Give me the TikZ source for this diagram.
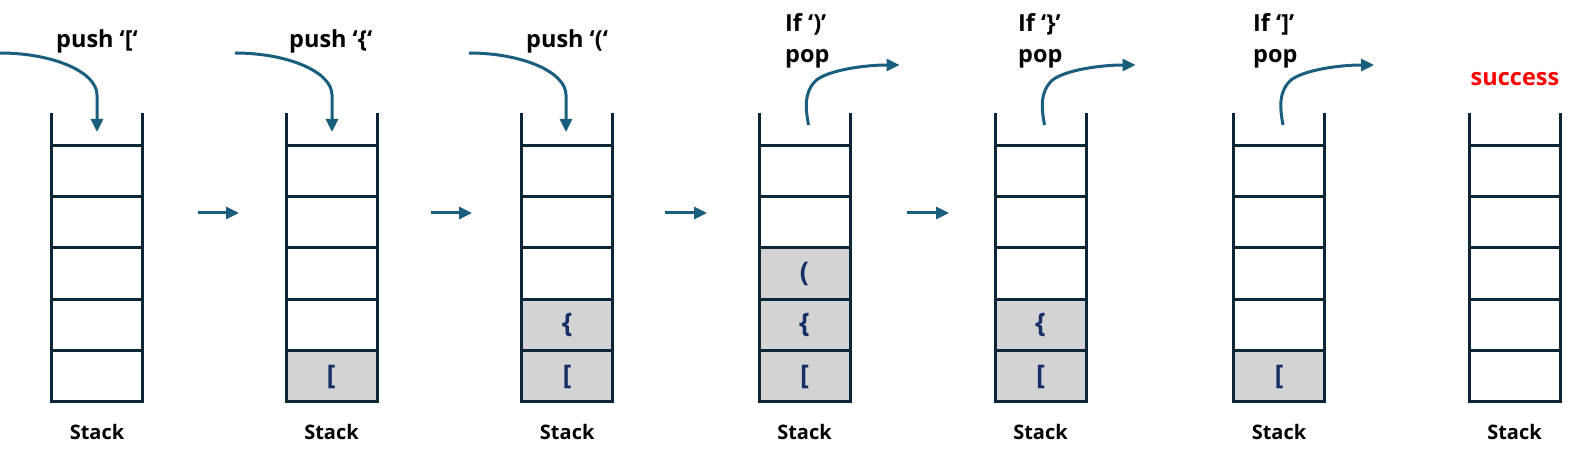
\documentclass[tikz,border=0pt]{standalone}
\usepackage{fontspec}
\setmainfont{Open Sans}
\usetikzlibrary{arrows.meta}
\definecolor{stackc}{HTML}{0C2637}
\definecolor{arrc}{HTML}{1A5E7E}
\definecolor{cellc}{HTML}{D3D3D3}
\definecolor{brc}{HTML}{152F66}
\definecolor{okred}{HTML}{FF0000}
\begin{document}
\begin{tikzpicture}[x=1pt,y=-1pt,
  stackline/.style={draw=stackc,line width=3pt},
  cellfill/.style={fill=cellc,draw=none},
  brk/.style={text=brc,font=\fontsize{27}{27}\selectfont\bfseries,inner sep=0pt},
  lbl/.style={font=\fontsize{23.5}{26}\selectfont\bfseries,text=black,inner sep=0pt,anchor=base west},
  stacklbl/.style={font=\fontsize{20}{20}\selectfont\bfseries,inner sep=0pt,anchor=base},
  flow/.style={draw=arrc,line width=3pt,-{Triangle[length=13pt,width=12pt]}},
]
\useasboundingbox (0,0) rectangle (1588,457);

% filled cells: stack/row
\foreach \l/\k in {286/5, 521.7/4, 521.7/5, 759/3, 759/4, 759/5, 995/4, 995/5, 1233.5/5}{
  \fill[cellfill] (\l, {146+51*(\k-1)}) rectangle ({\l+91}, {146+51*\k});
}

% stacks
\foreach \i/\l in {1/51.5,2/286,3/521.7,4/759,5/995,6/1233.5,7/1469}{
  \pgfmathsetmacro\r{\l+91}
  \pgfmathsetmacro\cx{\l+45.5}
  \draw[stackline,line join=miter] (\l,113) -- (\l,401) -- (\r,401) -- (\r,113);
  \foreach \y in {146,197,248,299,350}{
    \draw[stackline] (\l,\y) -- (\r,\y);
  }
  \node[stacklbl] (st\i) at (\cx,439) {Stack};
}

% cell contents
\node[brk] (c2-5) at (331,377) {[};
\node[brk] (c3-4) at (567.2,325) {\{};
\node[brk] (c3-5) at (567.2,377) {[};
\node[brk] (c4-3) at (804.5,274) {(};
\node[brk] (c4-4) at (804.5,325) {\{};
\node[brk] (c4-5) at (804.5,377) {[};
\node[brk] (c5-4) at (1040.5,325) {\{};
\node[brk] (c5-5) at (1040.5,377) {[};
\node[brk] (c6-5) at (1279,377) {[};

% push labels and arrows
\node[lbl] (push1) at (56,48) {push ‘[‘};
\node[lbl] (push2) at (289,48) {push ‘\{‘};
\node[lbl] (push3) at (526,48) {push ‘(‘};
\foreach \i/\cx in {1/97,2/332,3/566}{
  \coordinate (ps\i) at ({\cx-97},53);
  \coordinate (pt\i) at (\cx,132);
  \draw[flow] (ps\i) .. controls +(53,0) and +(0,-23) .. (\cx,95) -- (pt\i);
}

% pop labels and arrows
\node[lbl] (if4) at (785,32) {If ‘)’};
\node[lbl] (pop4) at (785,63) {pop};
\node[lbl] (if5) at (1018,32) {If ‘\}’};
\node[lbl] (pop5) at (1018,63) {pop};
\node[lbl] (if6) at (1253,32) {If ‘]’};
\node[lbl] (pop6) at (1253,63) {pop};
\foreach \i/\cx in {4/804.5,5/1040.5,6/1279}{
  \coordinate (qs\i) at ({\cx+4},125);
  \coordinate (qm\i) at ({\cx+12},80);
  \coordinate (qt\i) at ({\cx+95},65);
  \draw[flow] (qs\i) .. controls +(-3,-17) and +(-13,12) .. (qm\i) .. controls +(13,-10) and +(-35,0) .. (qt\i);
}

% success
\node[font=\fontsize{23.5}{26}\selectfont\bfseries,text=okred,inner sep=0pt,anchor=base] (ok) at (1515,86) {success};

% horizontal arrows
\foreach \i/\a/\b in {1/197.5/239,2/430.5/472,3/665/707,4/906.5/949}{
  \coordinate (ha\i) at (\a,213);
  \coordinate (hb\i) at (\b,213);
  \draw[flow] (ha\i) -- (hb\i);
}
\end{tikzpicture}
\end{document}
